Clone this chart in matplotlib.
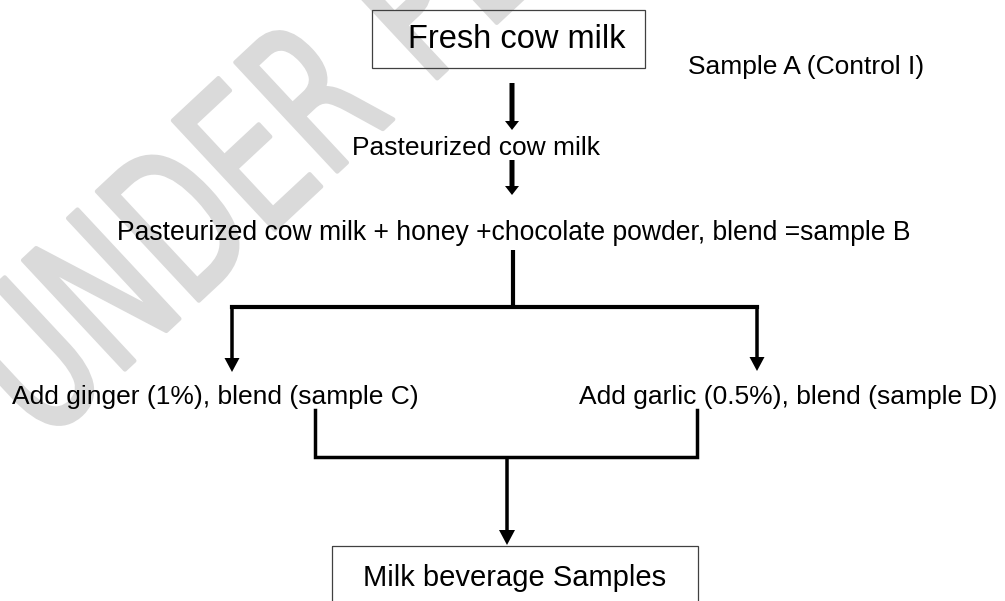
import matplotlib.pyplot as plt
from matplotlib.patches import Rectangle, PathPatch
from matplotlib.textpath import TextPath
from matplotlib.font_manager import FontProperties
from matplotlib.transforms import Affine2D

# flowchart labels
start_label = "Fresh cow milk"
control_label = "Sample A (Control I)"
step_labels = ["Pasteurized cow milk",
               "Pasteurized cow milk + honey +chocolate powder, blend =sample B"]
branch_labels = ["Add ginger (1%), blend (sample C)",
                 "Add garlic (0.5%), blend (sample D)"]
end_label = "Milk beverage Samples"
watermark = "UNDER PEER REVIEW"

plt.rcParams['font.family'] = ['Liberation Sans', 'DejaVu Sans']

fig = plt.figure(figsize=(10.05, 6.01), dpi=100)
ax = fig.add_axes([0, 0, 1, 1])
ax.set_xlim(0, 1005)
ax.set_ylim(601, 0)
ax.axis('off')

# watermark: condensed, rotated text drawn as a path behind everything
wm = TextPath((0, 0), watermark, size=100, prop=FontProperties(family='DejaVu Sans'))
wm_tr = Affine2D().scale(1.35, -2.05).rotate_deg(-43).translate(43, 446)
ax.add_patch(PathPatch(wm_tr.transform_path(wm), facecolor='#dadada',
                       edgecolor='#dadada', lw=3.0, joinstyle='round', zorder=0))

def box(x0, y0, x1, y1, label, size, tx=None):
    ax.add_patch(Rectangle((x0, y0), x1 - x0, y1 - y0, fill=False,
                           edgecolor='#404040', lw=0.9, zorder=2))
    if tx is None:
        tx = (x0 + x1) / 2
    ax.text(tx, (y0 + y1) / 2, label, fontsize=size,
            ha='center', va='center', zorder=3)

def arrow(x, y0, y1, shaft=5, hw=14, hl=9):
    ax.arrow(x, y0, 0, y1 - y0, width=shaft, head_width=hw, head_length=hl,
             length_includes_head=True, color='black', lw=0, zorder=3)

box(372, 10, 645, 68, start_label, 23.5, tx=517)
ax.text(806, 67, control_label, fontsize=19, ha='center', va='center', zorder=3)

arrow(512, 83, 130)
ax.text(476, 148, step_labels[0], fontsize=19, ha='center', va='center', zorder=3)
arrow(512, 160, 195)
ax.text(514, 233, step_labels[1], fontsize=19.1, ha='center', va='center', zorder=3)

# split into two branches
ax.plot([513, 513], [250, 307], color='black', lw=3, solid_capstyle='butt', zorder=3)
ax.plot([232, 757], [307, 307], color='black', lw=3, solid_capstyle='projecting', zorder=3)
arrow(232, 306, 372, shaft=3.5, hw=15, hl=14)
arrow(757, 306, 371, shaft=3.5, hw=15, hl=14)

ax.text(12, 397, branch_labels[0], fontsize=19, ha='left', va='center', zorder=3)
ax.text(997, 397, branch_labels[1], fontsize=19, ha='right', va='center', zorder=3)

# merge back
ax.plot([315, 315, 697, 697], [410, 457, 457, 410], color='black', lw=2.5,
        solid_joinstyle='miter', zorder=3)
arrow(507, 457, 545, shaft=3.5, hw=16, hl=15)

box(332, 546, 698, 610, end_label, 21)

fig.savefig('out.png', dpi=100, facecolor='white')
